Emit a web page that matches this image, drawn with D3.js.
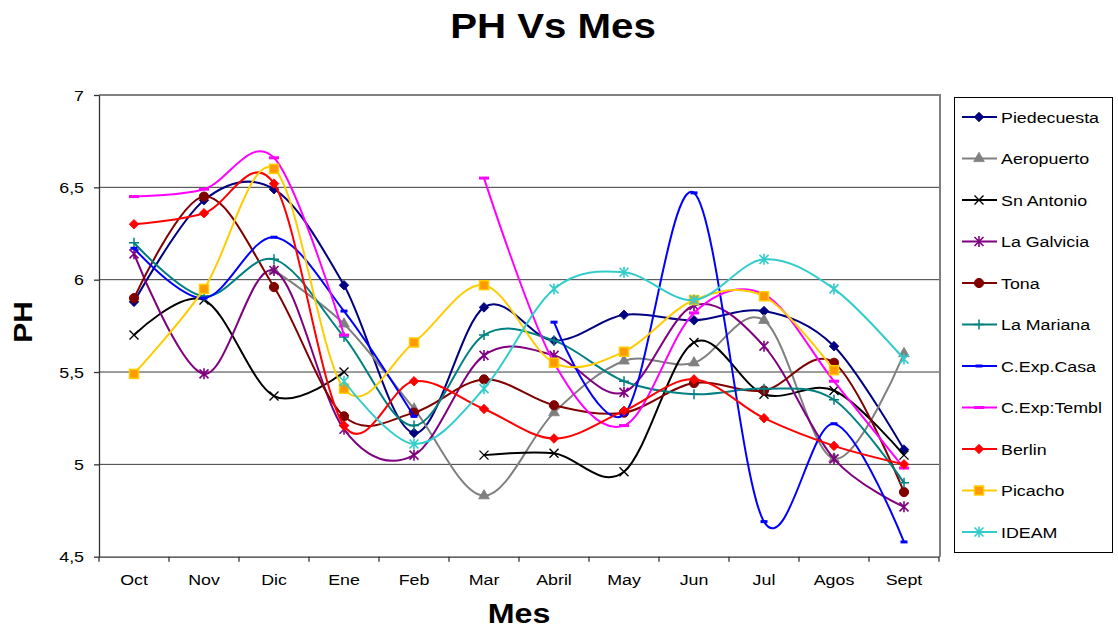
<!DOCTYPE html>
<html>
<head>
<meta charset="utf-8">
<script src="https://cdn.jsdelivr.net/npm/d3@7"></script>
<style>
  body { margin: 0; background: #fff; }
  svg { display: block; font-family: Arial, "Liberation Sans", sans-serif; }
</style>
</head>
<body>
<svg id="chart" width="1118" height="628"></svg>
<script>
const months = ["Oct","Nov","Dic","Ene","Feb","Mar","Abril","May","Jun","Jul","Agos","Sept"];
const yTicks = [4.5, 5, 5.5, 6, 6.5, 7];

const piedecuesta = [5.88,6.43,6.49,5.97,5.17,5.85,5.67,5.81,5.78,5.83,5.64,5.08];
const aeropuerto  = [null,null,6.05,5.76,5.30,4.83,5.28,5.56,5.55,5.78,5.03,5.60];
const snAntonio   = [5.70,5.89,5.37,5.50,null,5.05,5.06,4.96,5.66,5.38,5.40,5.05];
const laGalvicia  = [6.14,5.49,6.05,5.19,5.05,5.59,5.59,5.39,5.86,5.64,5.03,4.77];
const tona        = [5.90,6.45,5.96,5.26,5.28,5.46,5.32,5.28,5.44,5.40,5.55,4.85];
const laMariana   = [6.20,5.91,6.11,5.69,5.21,5.70,5.67,5.45,5.38,5.41,5.35,4.90];
const cExpCasa    = [6.17,5.90,6.23,5.83,5.26,null,5.77,5.27,6.47,4.69,5.22,4.58];
const cExpTembl   = [6.45,6.49,6.66,5.70,null,6.55,5.55,5.21,5.82,5.92,5.45,4.98];
const berlin      = [6.30,6.36,6.52,5.21,5.45,5.30,5.14,5.29,5.46,5.25,5.10,5.00];
const picacho     = [5.49,5.95,6.60,5.41,5.66,5.97,5.55,5.61,5.89,5.91,5.51,null];
const ideam       = [null,null,null,5.45,5.11,5.41,5.95,6.04,5.89,6.11,5.95,5.57];

const seriesNames = ["Piedecuesta","Aeropuerto","Sn Antonio","La Galvicia","Tona","La Mariana","C.Exp.Casa","C.Exp:Tembl","Berlin","Picacho","IDEAM"];
const seriesValues = [piedecuesta, aeropuerto, snAntonio, laGalvicia, tona, laMariana, cExpCasa, cExpTembl, berlin, picacho, ideam];

const styles = [
  {color:"#000080", marker:"diamond"},
  {color:"#808080", marker:"triangle"},
  {color:"#000000", marker:"x"},
  {color:"#800080", marker:"star"},
  {color:"#800000", marker:"circle"},
  {color:"#008080", marker:"plus"},
  {color:"#0000FF", marker:"shortdash"},
  {color:"#FF00FF", marker:"longdash"},
  {color:"#FF0000", marker:"diamond"},
  {color:"#FFCC00", marker:"square", fill:"#FF9900"},
  {color:"#33CCCC", marker:"star"}
];

const svg = d3.select("#chart");
const pLeft = 99, pRight = 939, pTop = 95, pBottom = 556.7;
const SX = 1.15;

const x = d3.scaleBand().domain(months).range([pLeft, pRight]).paddingInner(0).paddingOuter(0);
const cx = m => x(m) + x.bandwidth() / 2;
const y = d3.scaleLinear().domain([4.5, 7]).range([pBottom, pTop]);

function stext(g, tx, ty, str, size, anchor, weight, rotate) {
  const t = g.append("text")
    .attr("transform", `translate(${tx},${ty})` + (rotate ? ` rotate(${rotate})` : "") + ` scale(${SX},1)`)
    .attr("text-anchor", anchor)
    .attr("font-size", size)
    .attr("fill", "#000")
    .text(str);
  if (weight) t.attr("font-weight", weight);
  return t;
}

// gridlines
svg.append("g").selectAll("line").data(yTicks.filter(v => v < 7 && v > 4.5)).join("line")
  .attr("x1", pLeft).attr("x2", pRight)
  .attr("y1", d => y(d)).attr("y2", d => y(d))
  .attr("stroke", "#3a3a3a").attr("stroke-width", 1);

// plot frame: top and right (gray)
svg.append("path")
  .attr("d", `M${pLeft},${y(7)}H${pRight + 1}V${pBottom}`)
  .attr("fill", "none").attr("stroke", "#808080").attr("stroke-width", 2);

// y axis
const yAxis = svg.append("g").attr("transform", `translate(${pLeft},0)`)
  .call(d3.axisLeft(y).tickValues(yTicks).tickSize(5).tickSizeOuter(0).tickFormat(""));
yAxis.selectAll("path,line").attr("stroke", "#333").attr("stroke-width", 1.3);
yTicks.forEach(v => stext(svg, 84, y(v) + 5.5, String(v).replace(".", ","), 15.5, "end"));

// x axis
const xAxis = svg.append("g").attr("transform", `translate(0,${pBottom})`)
  .call(d3.axisBottom(x).tickSize(0).tickSizeOuter(0).tickFormat(""));
xAxis.selectAll("path").attr("stroke", "#333").attr("stroke-width", 1.3);
svg.append("g").selectAll("line").data(months.concat(["__end"])).join("line")
  .attr("x1", (d, i) => pLeft + i * x.step()).attr("x2", (d, i) => pLeft + i * x.step())
  .attr("y1", pBottom).attr("y2", pBottom + 5)
  .attr("stroke", "#333").attr("stroke-width", 1.3);
months.forEach(m => stext(svg, cx(m), 585, m, 15.5, "middle"));

// titles
stext(svg, 553, 38, "PH Vs Mes", 35, "middle", "bold");
stext(svg, 519, 623, "Mes", 28, "middle", "bold");
stext(svg, 32, 322, "PH", 26, "middle", "bold", -90);

function drawMarker(g, type, color, fill, px, py) {
  const gg = g.append("g").attr("transform", `translate(${px},${py})`);
  switch (type) {
    case "diamond":
      gg.append("path").attr("d", "M0,-4.8L4.8,0L0,4.8L-4.8,0Z").attr("fill", color).attr("stroke", color).attr("stroke-width", 0.8); break;
    case "triangle":
      gg.append("path").attr("d", d3.symbol(d3.symbolTriangle, 50)()).attr("fill", color).attr("stroke", color).attr("stroke-width", 0.8); break;
    case "x":
      gg.append("path").attr("d", "M-4.5,-4.5L4.5,4.5M-4.5,4.5L4.5,-4.5").attr("stroke", color).attr("stroke-width", 1.4).attr("fill", "none"); break;
    case "star":
      gg.append("path").attr("d", "M-4.5,-4.5L4.5,4.5M-4.5,4.5L4.5,-4.5M0,-5.5L0,5.5").attr("stroke", color).attr("stroke-width", 1.6).attr("fill", "none"); break;
    case "circle":
      gg.append("circle").attr("r", 4.6).attr("fill", color).attr("stroke", color); break;
    case "plus":
      gg.append("path").attr("d", "M-5,0L5,0M0,-5L0,5").attr("stroke", color).attr("stroke-width", 1.5).attr("fill", "none"); break;
    case "shortdash":
      gg.append("path").attr("d", "M-3.5,0L3.5,0").attr("stroke", color).attr("stroke-width", 3).attr("fill", "none"); break;
    case "longdash":
      gg.append("path").attr("d", "M-5,0L5,0").attr("stroke", color).attr("stroke-width", 3).attr("fill", "none"); break;
    case "square":
      gg.append("rect").attr("x", -4.5).attr("y", -4.5).attr("width", 9).attr("height", 9).attr("fill", fill).attr("stroke", color).attr("stroke-width", 1.5); break;
  }
}

const line = d3.line()
  .defined(d => d.v !== null)
  .x(d => cx(d.m))
  .y(d => y(d.v))
  .curve(d3.curveCardinal.tension(0));

const plot = svg.append("g");
seriesValues.forEach((vals, si) => {
  const st = styles[si];
  const pts = vals.map((v, i) => ({m: months[i], v}));
  const g = plot.append("g");
  g.append("path").datum(pts).attr("d", line)
    .attr("fill", "none").attr("stroke", st.color).attr("stroke-width", 2);
  pts.filter(p => p.v !== null).forEach(p => drawMarker(g, st.marker, st.color, st.fill, cx(p.m), y(p.v)));
});

// legend
const lg = svg.append("g");
lg.append("rect").attr("x", 954.5).attr("y", 97.5).attr("width", 158).attr("height", 455)
  .attr("fill", "#fff").attr("stroke", "#000").attr("stroke-width", 1);
seriesNames.forEach((name, i) => {
  const st = styles[i];
  const ly = 117 + i * 41.5;
  lg.append("line").attr("x1", 962).attr("x2", 997).attr("y1", ly).attr("y2", ly)
    .attr("stroke", st.color).attr("stroke-width", 2);
  drawMarker(lg, st.marker, st.color, st.fill, 979, ly);
  stext(lg, 1001, ly + 5.5, name, 15.5, "start");
});
</script>
</body>
</html>
